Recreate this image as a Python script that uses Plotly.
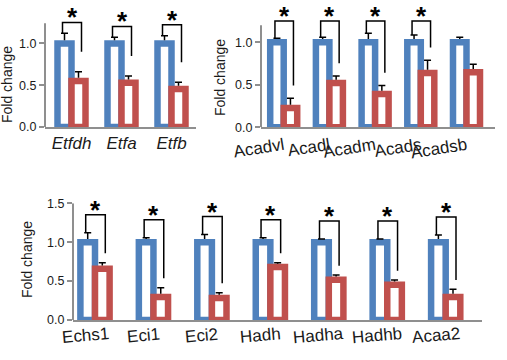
import plotly.graph_objects as go

# ---------------- data ----------------
genes1 = ["Etfdh", "Etfa", "Etfb"]
ctrl1 = [1.0, 1.0, 1.0]
ctrl1_err = [0.12, 0.073, 0.092]
ko1 = [0.55, 0.53, 0.455]
ko1_err = [0.11, 0.08, 0.08]
sig1 = [True, True, True]

genes2 = ["Acadvl", "Acadl", "Acadm", "Acads", "Acadsb"]
ctrl2 = [1.0, 1.0, 1.0, 1.0, 1.0]
ctrl2_err = [0.047, 0.059, 0.106, 0.086, 0.059]
ko2 = [0.227, 0.521, 0.392, 0.639, 0.647]
ko2_err = [0.115, 0.083, 0.10, 0.15, 0.094]
sig2 = [True, True, True, True, False]

genes3 = ["Echs1", "Eci1", "Eci2", "Hadh", "Hadha", "Hadhb", "Acaa2"]
ctrl3 = [1.0, 1.0, 1.0, 1.0, 1.0, 1.0, 1.0]
ctrl3_err = [0.122, 0.058, 0.10, 0.058, 0.041, 0.041, 0.093]
ko3 = [0.66, 0.296, 0.283, 0.681, 0.518, 0.454, 0.296]
ko3_err = [0.077, 0.12, 0.068, 0.056, 0.06, 0.06, 0.098]
sig3 = [True, True, True, True, True, True, True]

y_title = "Fold change"

# ---------------- style / layout ----------------
W, H = 507, 360
BLUE = "#4F81BD"
RED = "#C0504D"
AXIS = "#8f8f8f"
TXT = "#1a1a1a"
FONT = "Liberation Sans, Arial, sans-serif"
LW = 6.5

panels = [
    dict(genes=genes1, ctrl=ctrl1, cerr=ctrl1_err, ko=ko1, kerr=ko1_err, sig=sig1,
         ax="", xdom=(45, 196), cat0=71.5, ppx=50.0, y0=127.0, ppy=83.6,
         ytop=1.32, axis_top=1.24, yticks=[0, 0.5, 1.0], bar_px=14,
         top_gap=0.13, top_fixed=None, right_gap=0.24, title=(7, 85), mode="italic"),
    dict(genes=genes2, ctrl=ctrl2, cerr=ctrl2_err, ko=ko2, kerr=ko2_err, sig=sig2,
         ax="2", xdom=(261, 495), cat0=283.7, ppx=45.7, y0=127.3, ppy=85.0,
         ytop=1.32, axis_top=1.20, yticks=[0, 0.5, 1.0], bar_px=13.5,
         top_gap=0.15, top_fixed=1.25, right_gap=0.15, title=(220, 78), mode="angle"),
    dict(genes=genes3, ctrl=ctrl3, cerr=ctrl3_err, ko=ko3, kerr=ko3_err, sig=sig3,
         ax="3", xdom=(73, 481.7), cat0=95.0, ppx=58.45, y0=320.0, ppy=77.8,
         ytop=1.5, axis_top=1.5, yticks=[0, 0.5, 1.0, 1.5], bar_px=14.6,
         top_gap=0.23, top_fixed=None, right_gap=0.12, title=(27, 260), mode="annot"),
]

fig = go.Figure()
annotations = []
shapes = []
layout_axes = {}

for p in panels:
    n = len(p["genes"])
    xs = list(range(n))
    xname = "x" + p["ax"]
    yname = "y" + p["ax"]
    w = p["bar_px"] / p["ppx"]

    fig.add_trace(go.Bar(
        x=xs, y=p["ctrl"], width=w, offset=-w, xaxis=xname, yaxis=yname,
        marker=dict(color="white", line=dict(color=BLUE, width=LW)),
        showlegend=False, hoverinfo="skip"))
    fig.add_trace(go.Bar(
        x=xs, y=p["ko"], width=w, offset=0, xaxis=xname, yaxis=yname,
        marker=dict(color="white", line=dict(color=RED, width=LW)),
        showlegend=False, hoverinfo="skip"))

    # one-sided (upper) error bars: stem from bar outline to cap
    ex, ey = [], []
    cap = 3.5 / p["ppx"]
    lift = (LW / 2) / p["ppy"]
    for vals, errs, sgn in ((p["ctrl"], p["cerr"], -1), (p["ko"], p["kerr"], 1)):
        for i in range(n):
            cx = i + sgn * w / 2
            v0 = vals[i] + min(lift, errs[i])
            v1 = vals[i] + errs[i]
            ex += [cx, cx, None, cx - cap, cx + cap, None]
            ey += [v0, v1, None, v1, v1, None]
    fig.add_trace(go.Scatter(x=ex, y=ey, mode="lines", xaxis=xname, yaxis=yname,
                             line=dict(color="black", width=1.5),
                             showlegend=False, hoverinfo="skip"))

    # significance brackets
    bx, by = [], []
    for i in range(n):
        if not p["sig"][i]:
            continue
        ctop = p["ctrl"][i] + p["cerr"][i]
        ktop = p["ko"][i] + p["kerr"][i]
        xl = i - w / 2 - 2 / p["ppx"]
        xr = i + w / 2 + 3 / p["ppx"]
        top = p["top_fixed"] if p["top_fixed"] else ctop + p["top_gap"]
        bx += [xl, xl, xr, xr, None]
        by += [ctop, top, top, ktop + p["right_gap"], None]
        annotations.append(dict(
            x=(xl + xr) / 2, y=top, xref=xname, yref=yname, text="<b>*</b>",
            showarrow=False, yanchor="bottom", xanchor="center", yshift=-11,
            borderpad=0, font=dict(size=26, color="black", family=FONT)))
    fig.add_trace(go.Scatter(x=bx, y=by, mode="lines", xaxis=xname, yaxis=yname,
                             line=dict(color="black", width=1.5),
                             showlegend=False, hoverinfo="skip"))

    # axes
    x_lo = (p["xdom"][0] - p["cat0"]) / p["ppx"]
    x_hi = (p["xdom"][1] - p["cat0"]) / p["ppx"]
    ydom = [1 - p["y0"] / H, 1 - (p["y0"] - p["ytop"] * p["ppy"]) / H]
    xkey = "xaxis" + p["ax"]
    ykey = "yaxis" + p["ax"]

    if p["mode"] == "italic":
        ticktext = ["<i>%s</i>" % g for g in p["genes"]]
        showlbl, angle = True, 0
    elif p["mode"] == "angle":
        ticktext = list(p["genes"])
        showlbl, angle = True, -9
    else:
        ticktext = list(p["genes"])
        showlbl, angle = False, 0

    layout_axes[xkey] = dict(
        domain=[p["xdom"][0] / W, p["xdom"][1] / W], range=[x_lo, x_hi],
        anchor=yname, showline=True, linecolor=AXIS, linewidth=2,
        showgrid=False, zeroline=False, ticks="", tickvals=xs, ticktext=ticktext,
        showticklabels=showlbl, tickangle=angle, automargin=False,
        tickfont=dict(size=17, color=TXT, family=FONT), fixedrange=True)
    layout_axes[ykey] = dict(
        domain=ydom, range=[0, p["ytop"]], anchor=xname, showline=False,
        showgrid=False, zeroline=False, ticks="outside", ticklen=5, tickwidth=2,
        tickcolor=AXIS, tickvals=p["yticks"], tickformat=".1f", automargin=False,
        tickfont=dict(size=12.5, color=TXT, family=FONT), fixedrange=True)

    shapes.append(dict(type="line", xref=xname + " domain", yref=yname,
                       x0=0, x1=0, y0=0, y1=p["axis_top"],
                       line=dict(color=AXIS, width=2)))

    if p["mode"] == "annot":
        for i, g in enumerate(p["genes"]):
            annotations.append(dict(
                x=i, y=1 - 335 / H, xref=xname, yref="paper", text=g,
                showarrow=False, xanchor="center", yanchor="middle",
                xshift=-10, textangle=-5,
                font=dict(size=17, color=TXT, family=FONT)))

    annotations.append(dict(
        x=p["title"][0] / W, y=1 - p["title"][1] / H, xref="paper", yref="paper",
        text=y_title, showarrow=False, textangle=-90, xanchor="center",
        yanchor="middle", font=dict(size=14, color=TXT, family=FONT)))

fig.update_layout(
    width=W, height=H, margin=dict(l=0, r=0, t=0, b=0, autoexpand=False),
    paper_bgcolor="white", plot_bgcolor="rgba(0,0,0,0)",
    barmode="overlay", showlegend=False,
    font=dict(family=FONT, color=TXT),
    annotations=annotations, shapes=shapes, **layout_axes)

fig.write_html("out.html", config={"displayModeBar": False, "staticPlot": True},
               post_script="document.body.style.margin='0';document.body.style.overflow='hidden';")
